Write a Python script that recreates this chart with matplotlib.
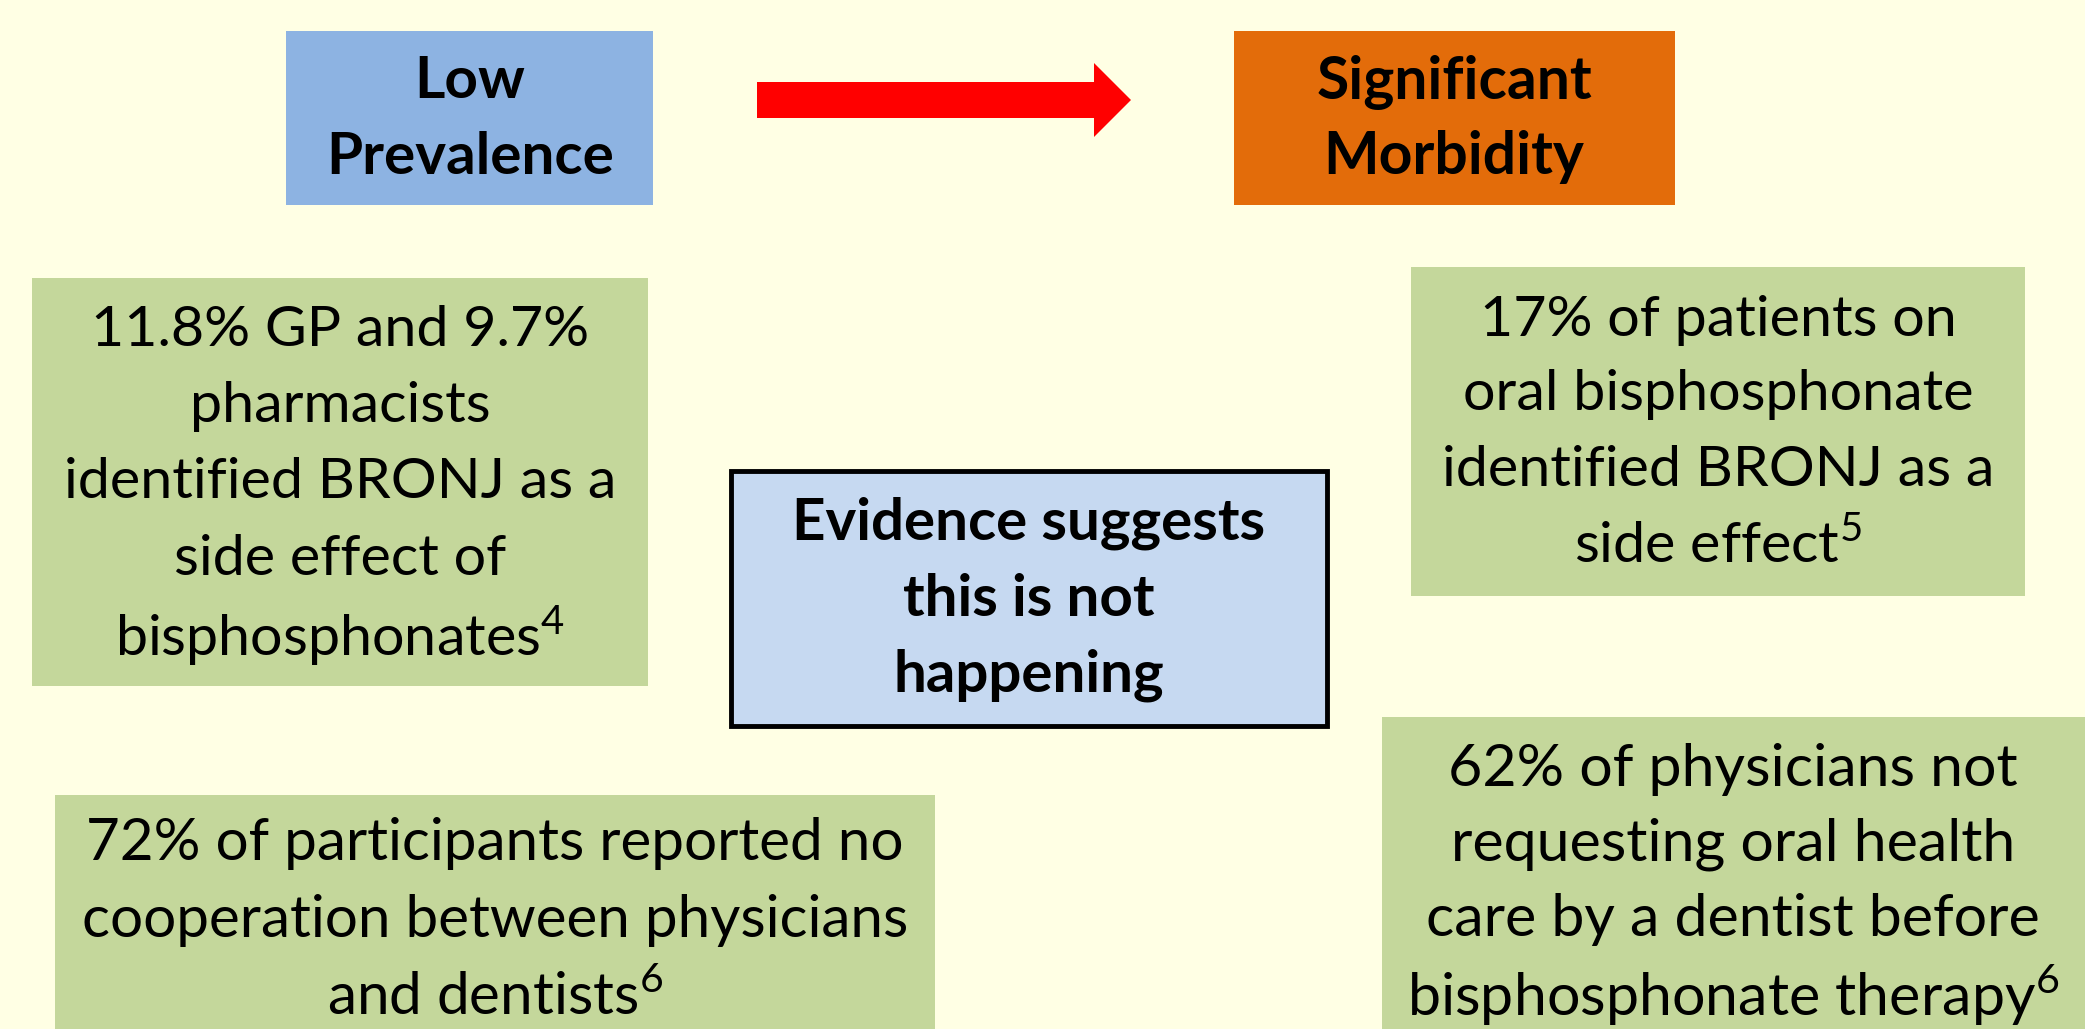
import matplotlib.pyplot as plt
from matplotlib.patches import Rectangle, FancyArrow

# box texts
low_lines = ["Low", "Prevalence"]
sig_lines = ["Significant", "Morbidity"]
evidence_lines = ["Evidence suggests", "this is not", "happening"]
gp_lines = ["11.8% GP and 9.7%", "pharmacists", "identified BRONJ as a",
            "side effect of", r"bisphosphonates$^{\mathrm{4}}$"]
patients_lines = ["17% of patients on", "oral bisphosphonate",
                  "identified BRONJ as a", r"side effect$^{\mathrm{5}}$"]
coop_lines = ["72% of participants reported no", "cooperation between physicians",
              r"and dentists$^{\mathrm{6}}$"]
phys_lines = ["62% of physicians not", "requesting oral health",
              "care by a dentist before", r"bisphosphonate therapy$^{\mathrm{6}}$"]

BG = "#ffffe4"
GREEN = "#c4d79b"

plt.rcParams["font.family"] = ["Lato", "DejaVu Sans"]
plt.rcParams["mathtext.fontset"] = "custom"
plt.rcParams["mathtext.rm"] = "Lato"

W, H = 2085, 1029
fig = plt.figure(figsize=(W / 100, H / 100), dpi=100, facecolor=BG)
ax = fig.add_axes([0, 0, 1, 1])
ax.set_xlim(0, W)
ax.set_ylim(H, 0)
ax.axis("off")
ax.set_facecolor(BG)
renderer = fig.canvas.get_renderer()


def box(x0, y0, x1, y1, color, edge=None, lw=0):
    ax.add_patch(Rectangle((x0, y0), x1 - x0, y1 - y0, facecolor=color,
                           edgecolor=edge if edge else "none", linewidth=lw, zorder=1))


def lines(cx, y_first, step, texts, widest, bold=False):
    # size the block so its widest line is about as wide as in the slide
    weight = "bold" if bold else "normal"
    objs = [ax.text(cx, y_first + i * step, t, ha="center", va="center", fontsize=40,
                    fontweight=weight, color="black", zorder=3)
            for i, t in enumerate(texts)]
    w = max(o.get_window_extent(renderer).width for o in objs)
    size = 40 * widest / w
    for o in objs:
        o.set_fontsize(size)


# header boxes
box(286, 31, 653, 205, "#8db3e2")
lines(470, 82, 75, low_lines, 287, bold=True)
box(1234, 31, 1675, 205, "#e36c0a")
lines(1454, 82, 75, sig_lines, 275, bold=True)

# arrow
ax.add_patch(FancyArrow(757, 100, 374, 0, width=36, head_width=74, head_length=37,
                        length_includes_head=True, facecolor="#ff0000",
                        edgecolor="none", zorder=2))

# green boxes
box(32, 278, 648, 686, GREEN)
lines(340, 330, 76.5, gp_lines, 551)
box(1411, 267, 2025, 596, GREEN)
lines(1718, 320, 75, patients_lines, 551)
box(55, 795, 935, 1029, GREEN)
lines(495, 844, 76.5, coop_lines, 826)
box(1382, 717, 2085, 1029, GREEN)
lines(1733, 769, 75.5, phys_lines, 652)

# centre box
box(731, 471, 1327, 726, "#c6d9f1", edge="black", lw=3.5)
lines(1029, 523, 76, evidence_lines, 473, bold=True)

fig.savefig("out.png", dpi=100, facecolor=BG)
